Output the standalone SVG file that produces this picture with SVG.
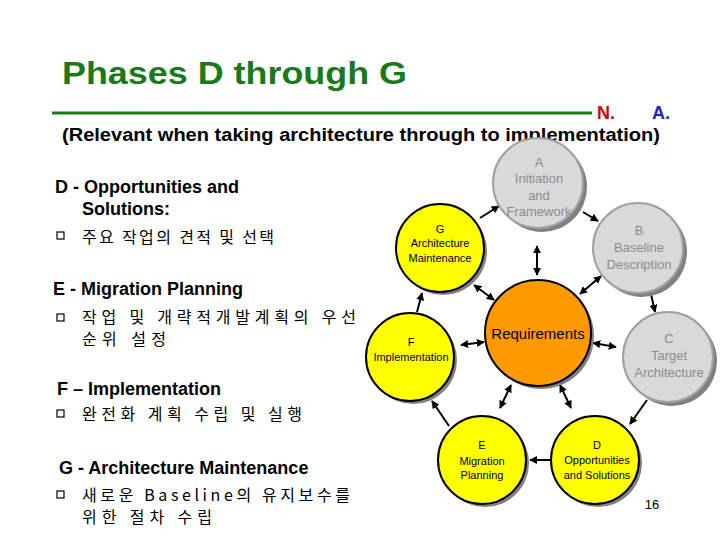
<svg xmlns="http://www.w3.org/2000/svg" width="720" height="540" viewBox="0 0 720 540">
<style>
text{font-family:"Liberation Sans",Arial,sans-serif}
.sh{fill:#808080}
.g{fill:#d9d9d9;stroke:#a0a0a0;stroke-width:2}
.y{fill:#ffff00;stroke:#000;stroke-width:2}
.gt{fill:#8c8c8c;font-size:13px;text-anchor:middle}
.yt{fill:#000;font-size:11px;text-anchor:middle}
.c line{stroke:#000;stroke-width:2}
.h{font-size:18px;font-weight:bold}
.k{font-size:16px;font-family:"Noto Sans CJK KR","Liberation Sans",sans-serif}
.b{fill:#fff;stroke:#000;stroke-width:1.2}
</style>
<defs>
<marker id="a" viewBox="0 0 10 10" refX="9" refY="5" markerWidth="4" markerHeight="4" orient="auto-start-reverse"><path d="M0,0L10,5L0,10z" fill="#000"/></marker>
</defs>
<rect width="720" height="540" fill="#fff"/>
<text x="62" y="84" font-size="31" font-weight="bold" fill="#1a7a1a" textLength="345" lengthAdjust="spacingAndGlyphs">Phases D through G</text>
<line x1="52" y1="113" x2="592" y2="113" stroke="#1a7a1a" stroke-width="3"/>
<text x="597" y="119" font-size="18" font-weight="bold" fill="#cc0000">N.</text>
<text x="652" y="119" font-size="18" font-weight="bold" fill="#2222cc">A.</text>
<text x="62" y="141" font-size="18" font-weight="bold" textLength="598" lengthAdjust="spacingAndGlyphs">(Relevant when taking architecture through to implementation)</text>

<text x="55" y="193" class="h">D - Opportunities and</text>
<text x="82" y="215" class="h">Solutions:</text>
<rect x="57" y="232" width="7" height="7" class="b"/>
<text x="82" y="243" class="k" textLength="192">주요 작업의 견적 및 선택</text>
<text x="53" y="295" class="h">E - Migration Planning</text>
<rect x="57" y="314" width="7" height="7" class="b"/>
<text x="82" y="323" class="k" textLength="274">작업 및 개략적개발계획의 우선</text>
<text x="82" y="345" class="k" textLength="84">순위 설정</text>
<text x="57" y="395" class="h">F – Implementation</text>
<rect x="57" y="410" width="7" height="7" class="b"/>
<text x="82" y="420" class="k" textLength="220">완전화 계획 수립 및 실행</text>
<text x="59" y="474" class="h">G - Architecture Maintenance</text>
<rect x="57" y="491" width="7" height="7" class="b"/>
<text x="82" y="501" class="k" textLength="268">새로운 Baseline의 유지보수를</text>
<text x="82" y="523" class="k" textLength="130">위한 절차 수립</text>

<g class="c">
<line x1="480" y1="218" x2="499" y2="206" marker-end="url(#a)"/>
<line x1="583" y1="212" x2="598" y2="221" marker-end="url(#a)"/>
<line x1="651" y1="294" x2="655" y2="312" marker-end="url(#a)"/>
<line x1="647" y1="400" x2="630" y2="424" marker-end="url(#a)"/>
<line x1="552" y1="460" x2="530" y2="460" marker-end="url(#a)"/>
<line x1="449" y1="426" x2="432" y2="401" marker-end="url(#a)"/>
<line x1="417" y1="312" x2="422" y2="293" marker-end="url(#a)"/>
<line x1="537" y1="246" x2="537" y2="275" marker-start="url(#a)" marker-end="url(#a)"/>
<line x1="601" y1="276" x2="580" y2="294" marker-start="url(#a)" marker-end="url(#a)"/>
<line x1="593" y1="343" x2="616" y2="347" marker-start="url(#a)" marker-end="url(#a)"/>
<line x1="560" y1="385" x2="571" y2="408" marker-start="url(#a)" marker-end="url(#a)"/>
<line x1="511" y1="385" x2="500" y2="408" marker-start="url(#a)" marker-end="url(#a)"/>
<line x1="461" y1="345" x2="484" y2="342" marker-start="url(#a)" marker-end="url(#a)"/>
<line x1="474" y1="285" x2="494" y2="300" marker-start="url(#a)" marker-end="url(#a)"/>
</g>

<g id="A"><circle cx="542" cy="187" r="45" class="sh"/><circle cx="538" cy="183" r="45" class="g"/>
<text class="gt" x="539" y="167">A</text><text class="gt" x="539" y="183">Initiation</text><text class="gt" x="539" y="200">and</text><text class="gt" x="539" y="216">Framework</text></g>
<g id="B"><circle cx="642" cy="252" r="45" class="sh"/><circle cx="638" cy="248" r="45" class="g"/>
<text class="gt" x="639" y="235">B</text><text class="gt" x="639" y="252">Baseline</text><text class="gt" x="639" y="269">Description</text></g>
<g id="C"><circle cx="672" cy="361" r="45" class="sh"/><circle cx="668" cy="357" r="45" class="g"/>
<text class="gt" x="669" y="343">C</text><text class="gt" x="669" y="360">Target</text><text class="gt" x="669" y="377">Architecture</text></g>
<g id="D"><circle cx="598" cy="463" r="44" class="sh"/><circle cx="595" cy="460" r="44" class="y"/>
<text class="yt" x="597" y="449">D</text><text class="yt" x="597" y="464">Opportunities</text><text class="yt" x="597" y="479">and Solutions</text></g>
<g id="E"><circle cx="485" cy="463" r="44" class="sh"/><circle cx="482" cy="460" r="44" class="y"/>
<text class="yt" x="482" y="449">E</text><text class="yt" x="482" y="465">Migration</text><text class="yt" x="482" y="479">Planning</text></g>
<g id="F"><circle cx="413" cy="360" r="44" class="sh"/><circle cx="410" cy="357" r="44" class="y"/>
<text class="yt" x="411" y="346">F</text><text class="yt" x="411" y="361">Implementation</text></g>
<g id="G"><circle cx="443" cy="251" r="44" class="sh"/><circle cx="440" cy="248" r="44" class="y"/>
<text class="yt" x="440" y="233">G</text><text class="yt" x="440" y="247">Architecture</text><text class="yt" x="440" y="262">Maintenance</text></g>
<g id="R"><circle cx="541" cy="336" r="53" class="sh"/><circle cx="538" cy="333" r="53" fill="#ff9900" stroke="#000" stroke-width="2"/>
<text x="538" y="339" font-size="15" text-anchor="middle">Requirements</text></g>
<text x="652" y="509" font-size="13" text-anchor="middle">16</text>
</svg>
